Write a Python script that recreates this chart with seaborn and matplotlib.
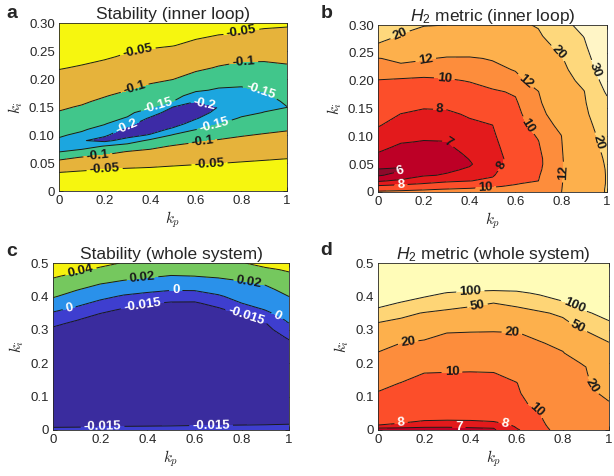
import numpy as np
import matplotlib
matplotlib.use('Agg')
import matplotlib.pyplot as plt
import seaborn as sns

# grid of proportional gain (columns) shared by all four panels
kp = [0.0, 0.1, 0.2, 0.3, 0.4, 0.5, 0.6, 0.7, 0.8, 0.9, 1.0]

# (a) stability of the inner loop, one list per kp column
ki_a = [0, 0.02, 0.04, 0.06, 0.07, 0.08, 0.09, 0.10, 0.11, 0.12, 0.13,
        0.14, 0.15, 0.16, 0.17, 0.18, 0.20, 0.22, 0.24, 0.26, 0.28, 0.30]
stab_inner = [
    [0, -.029, -.061, -.112, -.151, -.168, -.157, -.144, -.133, -.123, -.113, -.102, -.095, -.088, -.081, -.075, -.061, -.048, -.036, -.024, -.012, 0],
    [0, -.027, -.056, -.098, -.132, -.173, -.197, -.160, -.144, -.134, -.124, -.113, -.103, -.095, -.088, -.081, -.067, -.053, -.041, -.029, -.017, -.005],
    [0, -.026, -.052, -.089, -.113, -.147, -.212, -.195, -.168, -.147, -.137, -.127, -.117, -.107, -.098, -.090, -.075, -.060, -.046, -.034, -.022, -.010],
    [0, -.024, -.049, -.082, -.098, -.128, -.180, -.220, -.213, -.185, -.153, -.141, -.131, -.120, -.110, -.0995, -.085, -.069, -.054, -.042, -.031, -.020],
    [0, -.023, -.047, -.076, -.091, -.111, -.139, -.196, -.225, -.230, -.207, -.170, -.144, -.133, -.122, -.111, -.092, -.076, -.060, -.046, -.036, -.025],
    [0, -.022, -.044, -.070, -.084, -.097, -.121, -.147, -.190, -.222, -.243, -.230, -.200, -.150, -.135, -.123, -.099, -.083, -.066, -.049, -.040, -.030],
    [0, -.021, -.042, -.065, -.078, -.090, -.105, -.127, -.151, -.178, -.205, -.228, -.226, -.199, -.168, -.144, -.116, -.092, -.075, -.057, -.044, -.035],
    [0, -.020, -.040, -.062, -.073, -.085, -.097, -.113, -.132, -.151, -.165, -.183, -.199, -.186, -.169, -.155, -.129, -.103, -.084, -.066, -.049, -.040],
    [0, -.019, -.038, -.058, -.069, -.080, -.091, -.103, -.118, -.132, -.147, -.159, -.169, -.180, -.169, -.157, -.134, -.111, -.090, -.071, -.052, -.043],
    [0, -.018, -.036, -.055, -.066, -.076, -.087, -.097, -.109, -.122, -.136, -.149, -.157, -.165, -.156, -.147, -.129, -.110, -.092, -.073, -.055, -.045],
    [0, -.017, -.035, -.052, -.062, -.072, -.082, -.092, -.103, -.116, -.129, -.143, -.1505, -.144, -.137, -.131, -.118, -.105, -.090, -.073, -.057, -.046],
]

# (b) H2 metric of the inner loop
ki_b = [0, 0.005, 0.01, 0.015, 0.02, 0.03, 0.04, 0.05, 0.06, 0.07, 0.08, 0.09,
        0.10, 0.12, 0.14, 0.16, 0.18, 0.20, 0.22, 0.24, 0.26, 0.28, 0.30]
h2_inner = [
    [10.3, 9.30, 8.22, 7.47, 6.87, 5.90, 5.95, 6.33, 6.65, 6.98, 7.20, 7.42, 7.63, 8.07, 8.53, 9.00, 9.47, 9.93, 10.85, 11.85, 18.5, 22.7, 26.0],
    [10.4, 9.56, 8.44, 7.70, 7.20, 6.33, 5.90, 6.18, 6.40, 6.62, 6.84, 7.05, 7.23, 7.61, 7.98, 8.58, 9.18, 9.79, 10.93, 12.83, 16.17, 19.50, 22.0],
    [10.5, 9.82, 8.91, 8.02, 7.58, 6.92, 6.66, 6.40, 6.54, 6.68, 6.82, 6.96, 7.12, 7.45, 7.78, 8.25, 8.96, 9.68, 10.76, 12.27, 14.98, 17.69, 20.3],
    [10.6, 10.05, 9.17, 8.33, 7.79, 7.07, 6.88, 6.74, 6.60, 6.73, 6.87, 6.98, 7.16, 7.48, 7.81, 8.30, 9.06, 9.81, 10.73, 11.71, 14.07, 17.04, 20.0],
    [10.8, 10.23, 9.50, 8.67, 7.96, 7.52, 7.09, 6.93, 7.03, 7.15, 7.28, 7.41, 7.54, 7.79, 8.13, 8.77, 9.42, 10.08, 10.92, 11.75, 13.69, 16.09, 18.5],
    [11.0, 10.44, 9.85, 9.08, 8.31, 7.85, 7.63, 7.48, 7.30, 7.42, 7.53, 7.65, 7.77, 7.99, 8.61, 9.21, 9.82, 10.54, 11.31, 12.19, 14.13, 16.06, 18.0],
    [11.3, 10.76, 10.22, 9.89, 9.71, 9.34, 8.97, 8.60, 8.71, 8.82, 8.93, 9.04, 9.15, 9.37, 9.59, 9.81, 10.15, 11.12, 12.17, 13.82, 15.48, 17.14, 18.8],
    [11.6, 11.2, 10.8, 10.4, 9.99, 9.89, 9.77, 9.66, 9.65, 9.75, 9.85, 9.95, 10.11, 10.57, 11.02, 11.48, 11.93, 13.23, 14.67, 16.11, 17.55, 18.99, 20.5],
    [11.9, 11.83, 11.75, 11.68, 11.6, 11.45, 11.3, 11.4, 11.51, 11.61, 11.71, 11.81, 11.92, 12.68, 13.8, 14.93, 16.06, 17.18, 18.31, 19.44, 21.4, 24.2, 27.0],
    [17.5, 17.4, 17.35, 17.3, 17.25, 17.2, 17.2, 17.2, 17.25, 17.3, 17.35, 17.45, 17.6, 18.0, 18.6, 19.2, 19.8, 21.8, 23.9, 26.0, 28.2, 30.3, 33.0],
    [20.3, 20.3, 20.25, 20.2, 20.2, 20.2, 20.25, 20.4, 20.6, 20.9, 21.2, 21.6, 22.0, 23.3, 25.5, 28.0, 31.2, 34.0, 36.5, 39.0, 41.5, 44.5, 48.0],
]

# (c) stability of the whole system
ki_c = [0, 0.01, 0.02, 0.05, 0.10, 0.20, 0.26, 0.28, 0.30, 0.32, 0.34, 0.36,
        0.38, 0.40, 0.42, 0.44, 0.46, 0.48, 0.50]
stab_whole = [
    [-.010, -.0163, -.0207, -.025, -.028, -.030, -.0275, -.0225, -.0175, -.0117, -.005, .0025, .0125, .0217, .0283, .035, .0417, .0483, .055],
    [-.010, -.0159, -.0205, -.025, -.028, -.030, -.030, -.0275, -.0225, -.0175, -.0113, -.0038, .0042, .0125, .0207, .0281, .0356, .0434, .052],
    [-.010, -.0155, -.0202, -.025, -.028, -.030, -.030, -.030, -.0278, -.0228, -.0178, -.0115, -.0038, .0043, .0128, .0212, .029, .0369, .045],
    [-.010, -.0145, -.0197, -.025, -.028, -.030, -.030, -.030, -.030, -.0265, -.0215, -.0165, -.0096, -.0019, .0071, .0167, .0247, .0318, .039],
    [-.010, -.0142, -.0194, -.025, -.028, -.030, -.030, -.030, -.030, -.0295, -.0245, -.0195, -.0141, -.0053, .0037, .013, .0216, .0278, .034],
    [-.010, -.0138, -.0191, -.025, -.028, -.030, -.030, -.030, -.030, -.030, -.0263, -.0213, -.0163, -.0082, .0009, .010, .0191, .0257, .032],
    [-.010, -.0133, -.0183, -.025, -.028, -.030, -.030, -.030, -.030, -.030, -.0265, -.0215, -.0165, -.0082, .0013, .0111, .0198, .0255, .033],
    [-.010, -.0131, -.0179, -.025, -.028, -.030, -.030, -.030, -.030, -.0273, -.0223, -.0173, -.0104, -.0021, .006, .014, .0218, .0289, .036],
    [-.010, -.0129, -.0173, -.025, -.028, -.030, -.030, -.030, -.0275, -.0225, -.0175, -.010, .0001, .006, .0119, .0179, .0247, .0318, .039],
    [-.010, -.0128, -.0167, -.025, -.028, -.030, -.0297, -.0245, -.0195, -.0155, -.0075, .0005, .0057, .0109, .0161, .0219, .0294, .037, .046],
    [-.010, -.0126, -.0159, -.025, -.028, -.030, -.0178, -.0122, -.0061, .0001, .005, .010, .015, .0201, .0253, .0307, .036, .042, .050],
]

# (d) H2 metric of the whole system
ki_d = [0, 0.005, 0.01, 0.015, 0.02, 0.03, 0.05, 0.08, 0.11, 0.14, 0.17,
        0.20, 0.23, 0.26, 0.29, 0.32, 0.35, 0.38, 0.41, 0.44, 0.47, 0.50]
h2_whole = [
    [6.8, 6.94, 7.38, 8.01, 8.09, 8.27, 8.64, 9.18, 9.73, 11.3, 13.91, 16.52, 19.13, 27.06, 37.65, 48.24, 81.25, 116.7, 150, 183.3, 216.7, 250],
    [6.8, 6.93, 7.17, 7.58, 7.99, 8.15, 8.46, 8.92, 9.38, 9.85, 11.79, 14.46, 17.14, 19.82, 30.37, 41.48, 58.75, 96.25, 134.6, 173.1, 211.5, 250],
    [6.8, 6.91, 7.06, 7.38, 7.69, 8.07, 8.34, 8.75, 9.16, 9.56, 9.97, 12.59, 15.37, 18.15, 24.0, 36.0, 48.0, 77.8, 115, 160, 205, 250],
    [6.8, 6.91, 7.05, 7.32, 7.58, 8.03, 8.29, 8.68, 9.06, 9.45, 9.84, 11.64, 14.36, 17.09, 19.82, 31.05, 42.89, 63.6, 97.7, 147.7, 198.9, 250],
    [6.8, 6.93, 7.11, 7.39, 7.67, 8.05, 8.30, 8.68, 9.05, 9.43, 9.80, 11.23, 13.86, 16.49, 19.12, 28.0, 40.0, 55.8, 90.7, 140.2, 195.1, 250],
    [6.9, 6.99, 7.29, 7.59, 7.88, 8.10, 8.35, 8.73, 9.11, 9.49, 9.87, 11.63, 14.07, 16.5, 18.94, 26.62, 38.31, 50.0, 87.5, 137.5, 193.75, 250],
    [7.8, 7.99, 8.07, 8.14, 8.18, 8.32, 8.62, 9.03, 9.45, 9.86, 11.35, 13.38, 15.41, 17.43, 19.46, 28.57, 40.26, 55.8, 90.7, 140.2, 195.1, 250],
    [9.2, 9.27, 9.35, 9.42, 9.49, 9.64, 9.93, 11.11, 12.44, 13.78, 15.11, 16.44, 17.78, 19.11, 23.61, 34.46, 45.3, 70.2, 106.8, 147.9, 188.9, 230],
    [11.0, 11.18, 11.36, 11.54, 11.72, 12.08, 12.8, 13.88, 14.96, 16.04, 17.12, 18.2, 19.28, 23.16, 32.63, 42.1, 56.25, 93.75, 126.1, 157.4, 188.7, 220],
    [13.5, 13.66, 13.83, 13.99, 14.16, 14.48, 15.14, 16.13, 17.11, 18.1, 19.08, 20.56, 28.97, 37.38, 45.79, 65.0, 95.0, 119, 141.7, 164.5, 187.2, 210],
    [16, 16.21, 16.42, 16.63, 16.84, 17.26, 18.11, 19.37, 22.57, 27.71, 32.86, 38, 43.14, 48.29, 68.2, 95.45, 114.3, 131.4, 148.6, 165.7, 182.9, 200],
]

# contour levels and band colours
levels_a = [-1, -0.2, -0.15, -0.1, -0.05, 1]
colors_a = ['#3d2ba6', '#1ca6df', '#41c68b', '#e6b33b', '#f6f60f']
levels_b = [0, 6, 7, 8, 10, 12, 20, 30, 100]
colors_b = ['#8c0a2a', '#bd0026', '#e31a1c', '#fc4e2a', '#fd8d3c', '#fdb04c', '#fed87c', '#fff5c6']
levels_c = [-1, -0.015, 0, 0.02, 0.04, 1]
colors_c = ['#3a2c9e', '#3e3ecf', '#2a91ea', '#75c85e', '#f6f20f']
levels_d = [0, 7, 8, 10, 20, 50, 100, 1000]
colors_d = ['#bd0026', '#e31a1c', '#fc4e2a', '#fd8d3c', '#fdb04c', '#fed576', '#fffcb8']

sns.set_theme(style='ticks')
plt.rcParams['font.family'] = ['Liberation Sans', 'DejaVu Sans']
plt.rcParams['mathtext.fontset'] = 'custom'
plt.rcParams['mathtext.rm'] = 'Liberation Sans'
plt.rcParams['mathtext.it'] = 'Liberation Sans:italic'
plt.rcParams['mathtext.bf'] = 'Liberation Sans:bold'
plt.rcParams['contour.negative_linestyle'] = 'solid'

fig = plt.figure(figsize=(6.14, 4.76), dpi=100)


def draw_panel(rect, ki, z, levels, colors, ymax, yticks, ylabels, title, letter, letter_xy, labels):
    ax = fig.add_axes(rect)
    Z = np.array(z).T
    ax.contourf(kp, ki, Z, levels=levels, colors=colors)
    # one contour set per level, so each can be labelled on its own
    lines = {}
    for lev in levels[1:-1]:
        lines[lev] = ax.contour(kp, ki, Z, levels=[lev], colors='k',
                                linewidths=0.7, linestyles='solid')
    # contour labels: (level, label spots, text colour)
    for lev, spots, col in labels:
        texts = lines[lev].clabel(manual=spots, fmt='%g', fontsize=9.5,
                                  colors=col, inline=True, inline_spacing=3)
        for t in texts:
            t.set_fontweight('bold')
    ax.set_xlim(0, 1)
    ax.set_ylim(0, ymax)
    ax.set_xticks([0, 0.2, 0.4, 0.6, 0.8, 1])
    ax.set_xticklabels(['0', '0.2', '0.4', '0.6', '0.8', '1'])
    ax.set_yticks(yticks)
    ax.set_yticklabels(ylabels)
    ax.tick_params(direction='in', top=True, right=True, length=3, width=0.6,
                   labelsize=9.5, pad=3, colors='#262626')
    for s in ax.spines.values():
        s.set_linewidth(0.6)
        s.set_color('#262626')
    ax.set_xlabel('$k_p$', math_fontfamily='cm', fontsize=11, labelpad=2)
    ax.set_ylabel('$k_i$', math_fontfamily='cm', fontsize=11, labelpad=3)
    ax.set_title(title, fontsize=12.5, pad=3)
    fig.text(letter_xy[0] / 614, 1 - letter_xy[1] / 476, letter, fontsize=14,
             fontweight='bold', va='baseline')
    return ax


yt_small = [0, 0.05, 0.10, 0.15, 0.20, 0.25, 0.30]
yl_small = ['0', '0.05', '0.10', '0.15', '0.20', '0.25', '0.30']
yt_big = [0, 0.1, 0.2, 0.3, 0.4, 0.5]
yl_big = ['0', '0.1', '0.2', '0.3', '0.4', '0.5']

draw_panel([59 / 614, 285 / 476, 228 / 614, 168 / 476], ki_a, stab_inner, levels_a, colors_a,
           0.30, yt_small, yl_small, 'Stability (inner loop)', 'a', (6, 18),
           [(-0.05, [(0.35, 0.24), (0.8, 0.284), (0.2, 0.04), (0.66, 0.05)], 'k'),
            (-0.1, [(0.33, 0.186), (0.81, 0.229), (0.17, 0.065), (0.63, 0.09)], 'k'),
            (-0.15, [(0.43, 0.16), (0.88, 0.172), (0.68, 0.12)], 'w'),
            (-0.2, [(0.3, 0.11), (0.64, 0.158)], 'w')])

draw_panel([378 / 614, 284 / 476, 229 / 614, 167 / 476], ki_b, h2_inner, levels_b, colors_b,
           0.30, yt_small, yl_small, '$H_2$ metric (inner loop)', 'b', (321, 18),
           [(20, [(0.1, 0.28), (0.8, 0.255), (0.97, 0.09)], 'k'),
            (30, [(0.95, 0.22)], 'k'),
            (12, [(0.21, 0.234), (0.66, 0.207), (0.83, 0.035)], 'k'),
            (10, [(0.29, 0.206), (0.67, 0.124), (0.47, 0.008)], 'k'),
            (8, [(0.27, 0.152), (0.55, 0.045)], 'k'),
            (8, [(0.1, 0.009)], 'w'),
            (7, [(0.31, 0.09)], 'k'),
            (6, [(0.1, 0.034)], 'w')])

draw_panel([53 / 614, 46 / 476, 236 / 614, 167 / 476], ki_c, stab_whole, levels_c, colors_c,
           0.5, yt_big, yl_big, 'Stability (whole system)', 'c', (6, 256),
           [(0.04, [(0.12, 0.47)], 'k'),
            (0.02, [(0.38, 0.45), (0.83, 0.44)], 'k'),
            (0, [(0.52, 0.418), (0.07, 0.36), (0.95, 0.34)], 'w'),
            (-0.015, [(0.38, 0.37), (0.82, 0.345), (0.21, 0.01), (0.67, 0.015)], 'w')])

draw_panel([378 / 614, 46 / 476, 231 / 614, 167 / 476], ki_d, h2_whole, levels_d, colors_d,
           0.5, yt_big, yl_big, '$H_2$ metric (whole system)', 'd', (320, 255),
           [(100, [(0.4, 0.415), (0.85, 0.375)], 'k'),
            (50, [(0.43, 0.375), (0.87, 0.315)], 'k'),
            (20, [(0.13, 0.265), (0.58, 0.29), (0.97, 0.155)], 'k'),
            (10, [(0.32, 0.18), (0.68, 0.055)], 'k'),
            (8, [(0.1, 0.02), (0.55, 0.02)], 'w'),
            (7, [(0.35, 0.005)], 'w')])

fig.savefig('out.png', dpi=100)
